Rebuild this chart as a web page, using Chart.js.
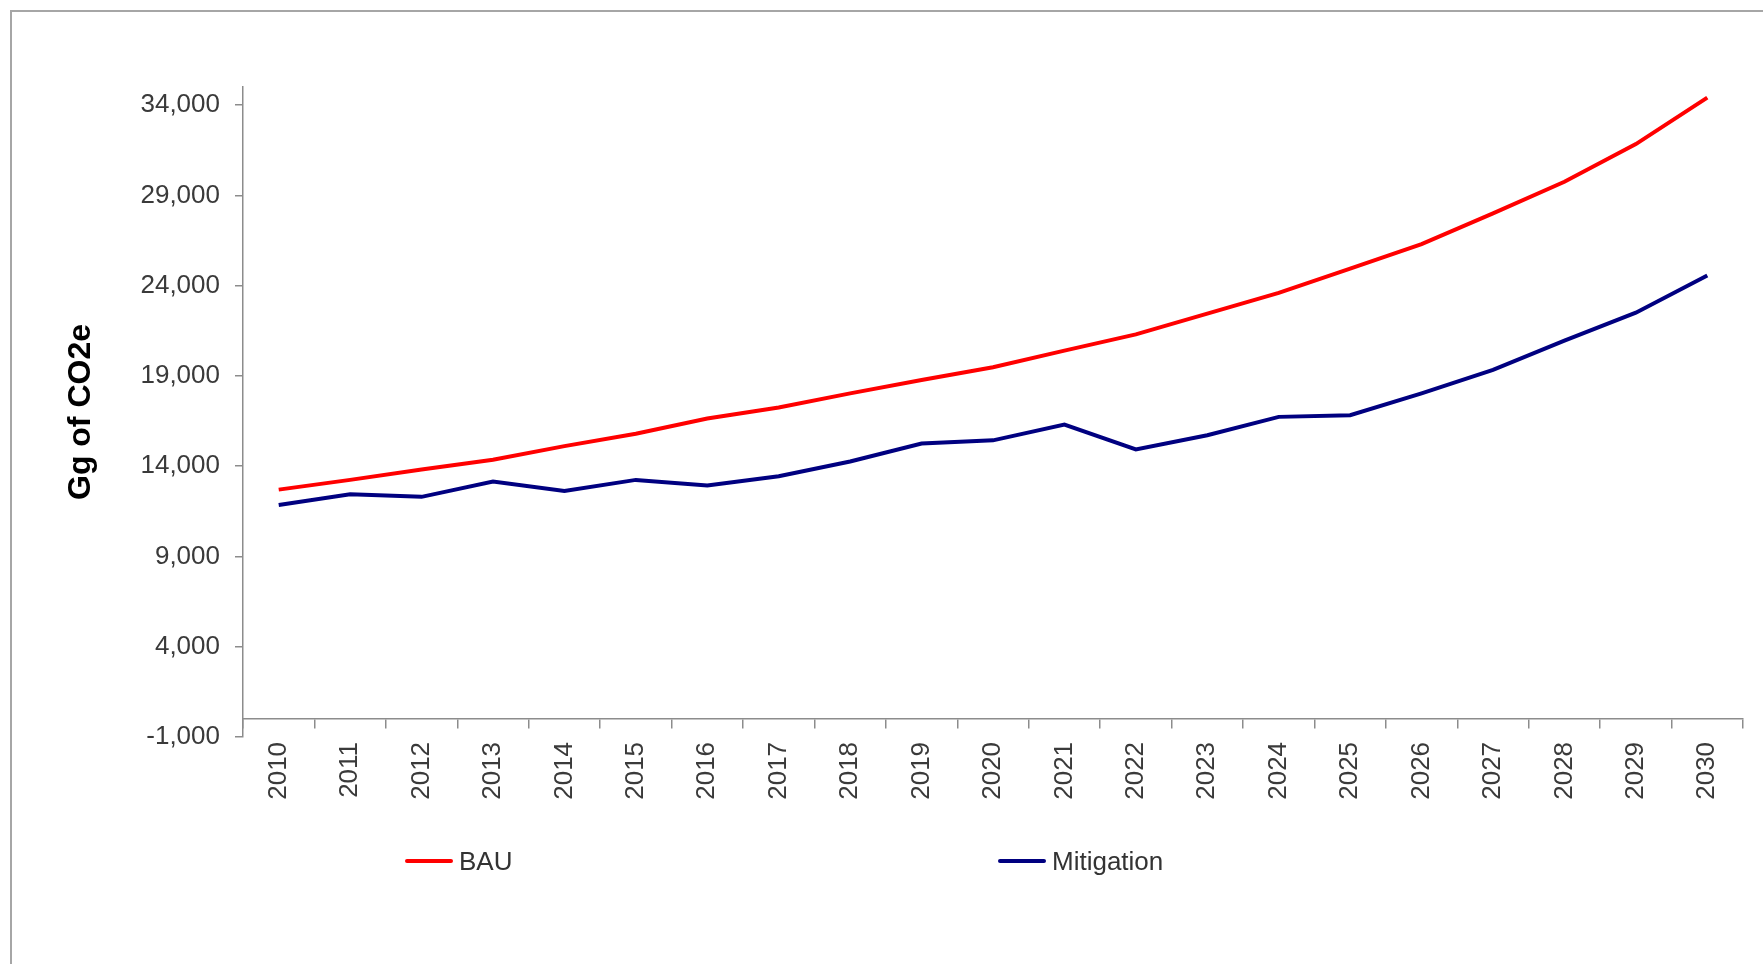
<!DOCTYPE html>
<html>
<head>
<meta charset="utf-8">
<title>Gg of CO2e - BAU vs Mitigation</title>
<script src="https://cdn.jsdelivr.net/npm/chart.js@4.4.0/dist/chart.umd.min.js"></script>
<style>
body {
  margin: 0;
  background: #ffffff;
  overflow: hidden;
  font-family: "Liberation Sans", Arial, sans-serif;
}

/* the grey frame around the sheet, cut off at right and bottom */
.frame {
  position: absolute;
  left: 10px;
  top: 10px;
  width: 1800px;
  height: 1000px;
  border: 2px solid #a6a6a6;
  box-sizing: border-box;
}

.wrap {
  position: absolute;
  left: 0;
  top: 0;
  width: 1763px;
  height: 964px;
}

/* legend items are spread out like the spreadsheet legend */
.legend-item {
  position: absolute;
  top: 844px;
  height: 34px;
  display: flex;
  align-items: center;
  font-size: 26px;
  color: #333333;
  white-space: nowrap;
}
.legend-item .swatch {
  display: inline-block;
  width: 48px;
  height: 4px;
  margin-right: 6px;
  border-radius: 2px;
}
</style>
</head>
<body>
<div class="frame"></div>
<div class="wrap">
  <canvas id="emissionsChart" width="1763" height="964"></canvas>
</div>
<div id="legend"></div>

<script>
// values
var years = ['2010','2011','2012','2013','2014','2015','2016','2017','2018','2019','2020',
             '2021','2022','2023','2024','2025','2026','2027','2028','2029','2030'];
var bau = [12700, 13240, 13820, 14360, 15110, 15800, 16640, 17250, 18030, 18770, 19480,
           20400, 21300, 22450, 23600, 24940, 26300, 28000, 29750, 31840, 34410];
var mitigation = [11850, 12440, 12300, 13150, 12630, 13240, 12930, 13440, 14260, 15250, 15430,
                  16300, 14930, 15710, 16730, 16820, 18030, 19330, 20950, 22500, 24560];
var yTicks = [-1000, 4000, 9000, 14000, 19000, 24000, 29000, 34000];

var legendLeft = [405, 998];
var axisGrey = '#8c8c8c';
var textGrey = '#3a3a3a';

var chart = new Chart(document.getElementById('emissionsChart'), {
  type: 'line',
  data: {
    labels: years,
    datasets: [
      {
        label: 'BAU',
        data: bau,
        borderColor: '#ff0000',
        backgroundColor: '#ff0000',
        borderWidth: 4,
        pointRadius: 0,
        tension: 0
      },
      {
        label: 'Mitigation',
        data: mitigation,
        borderColor: '#000080',
        backgroundColor: '#000080',
        borderWidth: 4,
        pointRadius: 0,
        tension: 0
      }
    ]
  },
  options: {
    responsive: false,
    animation: false,
    events: [],
    layout: {
      padding: {left: 0, top: 87, right: 20, bottom: 227}
    },
    plugins: {
      legend: {display: false},
      tooltip: {enabled: false}
    },
    scales: {
      x: {
        position: {y: 0},
        offset: true,
        grid: {
          offset: true,
          drawOnChartArea: false,
          color: axisGrey,
          tickLength: 9,
          lineWidth: 1.5
        },
        border: {color: axisGrey, width: 1.5},
        ticks: {
          autoSkip: false,
          minRotation: 90,
          maxRotation: 90,
          padding: 14,
          color: textGrey,
          font: {family: '"Liberation Sans", Arial, sans-serif', size: 26}
        }
      },
      y: {
        min: -1000,
        max: 35000,
        afterBuildTicks: function(scale) {
          scale.ticks = yTicks.map(function(v) { return {value: v}; });
        },
        afterFit: function(scale) {
          scale.width = 243;
        },
        grid: {
          drawOnChartArea: false,
          color: axisGrey,
          tickLength: 8,
          lineWidth: 1.5
        },
        border: {color: axisGrey, width: 1.5},
        ticks: {
          padding: 15,
          color: textGrey,
          font: {family: '"Liberation Sans", Arial, sans-serif', size: 26},
          callback: function(v) { return Number(v).toLocaleString('en-US'); }
        },
        title: {
          display: true,
          text: 'Gg of CO2e',
          color: '#000000',
          padding: {top: 62, bottom: 0},
          font: {family: '"Liberation Sans", Arial, sans-serif', size: 32, weight: 'bold'}
        }
      }
    }
  }
});

// html legend built from the datasets
var legendBox = document.getElementById('legend');
chart.data.datasets.forEach(function(ds, i) {
  var item = document.createElement('div');
  item.className = 'legend-item';
  item.style.left = legendLeft[i] + 'px';
  var sw = document.createElement('span');
  sw.className = 'swatch';
  sw.style.background = ds.borderColor;
  item.appendChild(sw);
  item.appendChild(document.createTextNode(ds.label));
  legendBox.appendChild(item);
});
</script>
</body>
</html>
